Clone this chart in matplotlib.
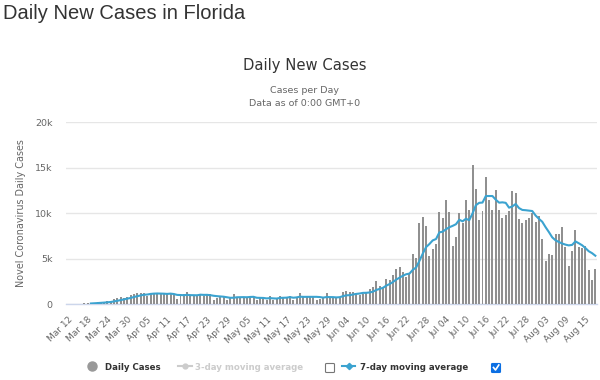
import matplotlib
matplotlib.use("Agg")
import matplotlib.pyplot as plt
from matplotlib.lines import Line2D
from matplotlib.patches import FancyBboxPatch
import numpy as np

W, H = 600, 380

# ---- data ----
daily_cases = [
    10, 20, 30, 40, 45, 55, 95, 115, 130, 230,
    200, 250, 330, 290, 560, 620, 750, 660, 780, 1000,
    1050, 1170, 1200, 1250, 830, 1250, 1230, 1150, 1120, 1100,
    1080, 1050, 950, 550, 1000, 1050, 1360, 850, 1000, 900,
    1000, 850, 1080, 1100, 400, 700, 720, 750, 400, 700,
    1150, 750, 760, 770, 650, 640, 800, 420, 680, 690,
    410, 900, 420, 680, 900, 800, 780, 830, 420, 680,
    1200, 780, 780, 770, 880, 420, 500, 810, 1180, 740,
    740, 667, 617, 1317, 1419, 1305, 1270, 1180, 966, 1096,
    1371, 1698, 1902, 2581, 2016, 1758, 2783, 2610, 3207, 3822,
    4049, 3494, 2926, 3286, 5508, 5004, 8942, 9585, 8530, 5266,
    6093, 6563, 10109, 9488, 11458, 10059, 6336, 7347, 9989, 8935,
    11433, 10360, 15300, 12624, 9194, 10181, 13965, 11466, 10328, 12478,
    10347, 9440, 9785, 10249, 12444, 12199, 9344, 8892, 9230, 9446,
    9956, 9007, 9642, 7104, 4752, 5446, 5409, 7650, 7686, 8502,
    6229, 4155, 5831, 8109, 6236, 6148, 6352, 3779, 2678, 3838,
]

moving_avg_7 = [
    None, None, None, None, None, None, None, 57, 73, 101,
    124, 154, 193, 221, 284, 354, 429, 494, 570, 666,
    774, 861, 944, 1016, 1040, 1107, 1140, 1154, 1147, 1133,
    1109, 1140, 1097, 1000, 979, 969, 1006, 973, 966, 959,
    1023, 1001, 1006, 969, 904, 861, 836, 800, 736, 681,
    689, 739, 747, 754, 740, 774, 789, 684, 674, 664,
    613, 649, 617, 600, 669, 686, 699, 759, 690, 727,
    801, 784, 781, 780, 787, 787, 761, 706, 763, 757,
    753, 722, 751, 867, 954, 972, 1048, 1111, 1153, 1222,
    1230, 1269, 1355, 1542, 1661, 1775, 2016, 2193, 2408, 2682,
    2892, 3103, 3270, 3342, 3756, 4013, 4744, 5535, 6254, 6589,
    6990, 7140, 7870, 7948, 8215, 8434, 8587, 8766, 9255, 9087,
    9365, 9208, 9957, 10855, 11119, 11147, 11865, 11870, 11865, 11462,
    11137, 11172, 11116, 10585, 10724, 10992, 10544, 10336, 10306, 10258,
    10216, 9725, 9360, 9040, 8448, 7908, 7331, 7001, 6813, 6650,
    6525, 6440, 6495, 6880, 6678, 6459, 6151, 5801, 5590, 5306,
]

x_tick_labels = [
    "Mar 12", "Mar 18", "Mar 24", "Mar 30", "Apr 05", "Apr 11", "Apr 17",
    "Apr 23", "Apr 29", "May 05", "May 11", "May 17", "May 23", "May 29",
    "Jun 04", "Jun 10", "Jun 16", "Jun 22", "Jun 28", "Jul 04", "Jul 10",
    "Jul 16", "Jul 22", "Jul 28", "Aug 03", "Aug 09", "Aug 15",
]
tick_step = 6
y_ticks = [0, 5000, 10000, 15000, 20000]
y_tick_labels = ["0", "5k", "10k", "15k", "20k"]

# ---- styles ----
BAR_C = "#909090"
LINE_C = "#3ba3d0"
TXT = "#333333"
SUB = "#666666"
FONT = ["DejaVu Sans"]

plt.rcParams["font.family"] = FONT

def fx(px):
    return px / W

def fy(py):
    return 1 - py / H

fig = plt.figure(figsize=(6, 3.8), dpi=100)
fig.patch.set_facecolor("white")

ax = fig.add_axes([fx(66), fy(304), (597 - 66) / W, (304 - 122) / H])
xs = np.arange(len(daily_cases))
ax.bar(xs, daily_cases, width=0.6, color=BAR_C, zorder=2, linewidth=0)
ma = np.array([np.nan if v is None else v for v in moving_avg_7], dtype=float)
ax.plot(xs, ma, color=LINE_C, lw=1.5, zorder=3, solid_joinstyle="round")

ax.set_xlim(-0.5, len(xs) - 0.5)
ax.set_ylim(0, 20000)
ax.set_yticks(y_ticks)
ax.set_yticklabels(y_tick_labels)
ax.grid(axis="y", color="#e6e6e6", lw=1)
ax.set_axisbelow(True)
for s in ["top", "right", "left"]:
    ax.spines[s].set_visible(False)
ax.spines["bottom"].set_color("#ccd6eb")
ax.spines["bottom"].set_linewidth(1)
ax.spines["bottom"].set_zorder(1)
ax.tick_params(axis="y", length=0, pad=9.5, labelsize=6.8, labelcolor=SUB)
ax.set_xticks(xs[::tick_step])
ax.set_xticklabels(x_tick_labels, rotation=45, ha="right", rotation_mode="anchor")
ax.tick_params(axis="x", length=0, pad=8, labelsize=6.5, labelcolor=SUB)

# ---- titles ----
fig.text(fx(3), fy(19), "Daily New Cases in Florida", fontsize=14.5,
         color=TXT, family=["Liberation Sans", "DejaVu Sans"], va="baseline", ha="left")
fig.text(fx(304.5), fy(70), "Daily New Cases", fontsize=10.6, color=TXT,
         ha="center", va="baseline")
fig.text(fx(305), fy(93), "Cases per Day", fontsize=6.8, color=SUB,
         ha="center", va="baseline")
fig.text(fx(305), fy(106), "Data as of 0:00 GMT+0", fontsize=6.8, color=SUB,
         ha="center", va="baseline")
fig.text(fx(21), fy(213), "Novel Coronavirus Daily Cases", fontsize=6.9,
         color=SUB, rotation=90, ha="center", va="center")

# ---- legend ----
ly = 366
fig.add_artist(Line2D([fx(91.7)], [fy(ly)], marker="o", markersize=6.5,
                      color="#999999", linestyle="none", transform=fig.transFigure))
fig.text(fx(105), fy(370), "Daily Cases", fontsize=6.2, fontweight="bold",
         color=TXT, ha="left", va="baseline")

fig.add_artist(Line2D([fx(178), fx(192)], [fy(ly), fy(ly)], color="#cccccc",
                      lw=1.5, transform=fig.transFigure))
fig.add_artist(Line2D([fx(185)], [fy(ly)], marker="o", markersize=3.5,
                      color="#cccccc", linestyle="none", transform=fig.transFigure))
fig.text(fx(195), fy(370), "3-day moving average", fontsize=6.2,
         fontweight="bold", color="#cccccc", ha="left", va="baseline")

fig.add_artist(FancyBboxPatch((fx(325.5), fy(372.5)), 9 / W, 9 / H,
                              boxstyle="round,pad=0,rounding_size=0.002",
                              facecolor="white", edgecolor="#767676", lw=0.8,
                              transform=fig.transFigure))

fig.add_artist(Line2D([fx(342), fx(355)], [fy(ly), fy(ly)], color=LINE_C,
                      lw=1.5, transform=fig.transFigure))
fig.add_artist(Line2D([fx(348.5)], [fy(ly)], marker="D", markersize=3.2,
                      color=LINE_C, linestyle="none", transform=fig.transFigure))
fig.text(fx(360), fy(370), "7-day moving average", fontsize=6.2,
         fontweight="bold", color=TXT, ha="left", va="baseline")

fig.add_artist(FancyBboxPatch((fx(491.5), fy(372.5)), 9 / W, 9 / H,
                              boxstyle="round,pad=0,rounding_size=0.002",
                              facecolor="#0b6fe3", edgecolor="#0b6fe3", lw=0.8,
                              transform=fig.transFigure))
fig.add_artist(Line2D([fx(493.5), fx(495.5), fx(498.8)],
                      [fy(367.5), fy(370), fy(365)], color="white", lw=1.2,
                      transform=fig.transFigure))

fig.savefig("out.png", dpi=100, facecolor="white")
